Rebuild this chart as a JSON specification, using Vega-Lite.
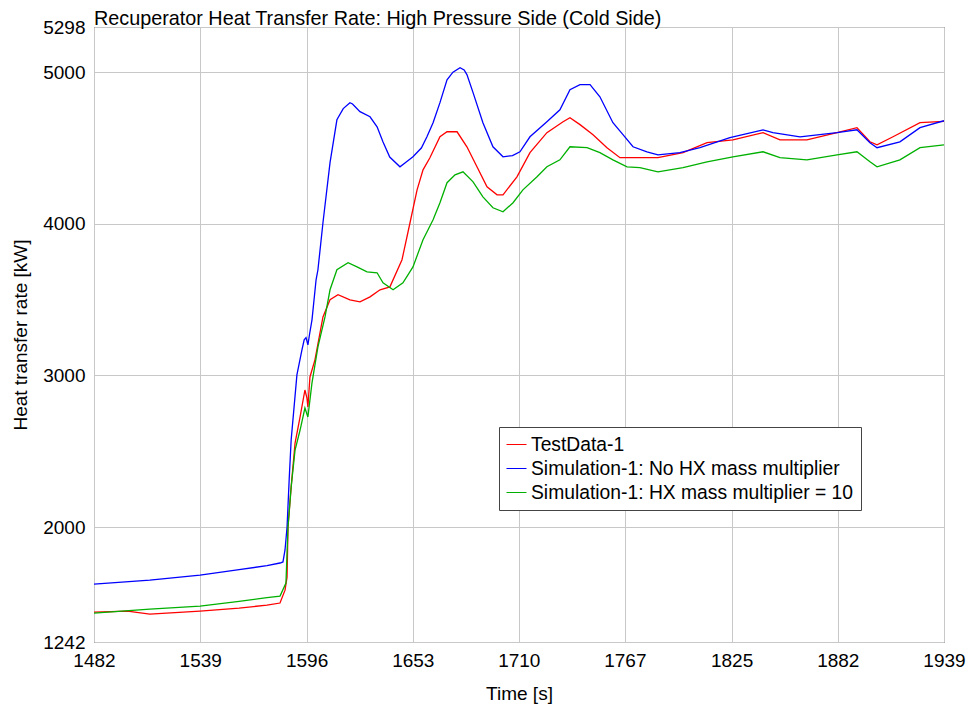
{
  "$schema": "https://vega.github.io/schema/vega-lite/v6.json",
  "width": 850,
  "height": 615,
  "autosize": "none",
  "padding": {"left": 94, "top": 27, "right": 29, "bottom": 66},
  "background": "white",
  "config": {
    "font": "Liberation Sans",
    "view": {"stroke": "#222222", "strokeWidth": 1}
  },
  "title": {
    "text": "Recuperator Heat Transfer Rate: High Pressure Side (Cold Side)",
    "anchor": "start",
    "frame": "group",
    "fontSize": 19.8,
    "fontWeight": "normal",
    "font": "Liberation Sans",
    "color": "black",
    "offset": 2,
    "dy": 13
  },
  "datasets": {
    "d": [
      {"s": "TestData-1", "t": 1482, "q": 1439},
      {"s": "TestData-1", "t": 1500, "q": 1446},
      {"s": "TestData-1", "t": 1512, "q": 1426},
      {"s": "TestData-1", "t": 1539, "q": 1446},
      {"s": "TestData-1", "t": 1560, "q": 1466},
      {"s": "TestData-1", "t": 1575, "q": 1485},
      {"s": "TestData-1", "t": 1582, "q": 1499},
      {"s": "TestData-1", "t": 1584.7, "q": 1584},
      {"s": "TestData-1", "t": 1585.8, "q": 1670},
      {"s": "TestData-1", "t": 1586.3, "q": 2000},
      {"s": "TestData-1", "t": 1588, "q": 2264},
      {"s": "TestData-1", "t": 1590.1, "q": 2554},
      {"s": "TestData-1", "t": 1592.8, "q": 2726},
      {"s": "TestData-1", "t": 1595.4, "q": 2904},
      {"s": "TestData-1", "t": 1596.5, "q": 2850},
      {"s": "TestData-1", "t": 1597, "q": 2792},
      {"s": "TestData-1", "t": 1598.1, "q": 2990},
      {"s": "TestData-1", "t": 1600.8, "q": 3103},
      {"s": "TestData-1", "t": 1605.1, "q": 3386},
      {"s": "TestData-1", "t": 1608.9, "q": 3499},
      {"s": "TestData-1", "t": 1613.2, "q": 3532},
      {"s": "TestData-1", "t": 1619.6, "q": 3499},
      {"s": "TestData-1", "t": 1625, "q": 3485},
      {"s": "TestData-1", "t": 1630.4, "q": 3518},
      {"s": "TestData-1", "t": 1635.8, "q": 3565},
      {"s": "TestData-1", "t": 1641.1, "q": 3584},
      {"s": "TestData-1", "t": 1647.6, "q": 3763},
      {"s": "TestData-1", "t": 1651.9, "q": 4007},
      {"s": "TestData-1", "t": 1655.7, "q": 4224},
      {"s": "TestData-1", "t": 1658.9, "q": 4356},
      {"s": "TestData-1", "t": 1662.6, "q": 4436},
      {"s": "TestData-1", "t": 1668, "q": 4574},
      {"s": "TestData-1", "t": 1671.8, "q": 4607},
      {"s": "TestData-1", "t": 1677.2, "q": 4607},
      {"s": "TestData-1", "t": 1682.5, "q": 4508},
      {"s": "TestData-1", "t": 1687.9, "q": 4376},
      {"s": "TestData-1", "t": 1693.3, "q": 4244},
      {"s": "TestData-1", "t": 1698.7, "q": 4191},
      {"s": "TestData-1", "t": 1701.9, "q": 4191},
      {"s": "TestData-1", "t": 1709.4, "q": 4310},
      {"s": "TestData-1", "t": 1716.4, "q": 4469},
      {"s": "TestData-1", "t": 1725.5, "q": 4601},
      {"s": "TestData-1", "t": 1734.2, "q": 4673},
      {"s": "TestData-1", "t": 1737.9, "q": 4700},
      {"s": "TestData-1", "t": 1743.3, "q": 4654},
      {"s": "TestData-1", "t": 1750.3, "q": 4588},
      {"s": "TestData-1", "t": 1757.8, "q": 4502},
      {"s": "TestData-1", "t": 1764.8, "q": 4436},
      {"s": "TestData-1", "t": 1775.5, "q": 4436},
      {"s": "TestData-1", "t": 1785.2, "q": 4436},
      {"s": "TestData-1", "t": 1798.7, "q": 4469},
      {"s": "TestData-1", "t": 1811.6, "q": 4535},
      {"s": "TestData-1", "t": 1825.5, "q": 4554},
      {"s": "TestData-1", "t": 1841.7, "q": 4601},
      {"s": "TestData-1", "t": 1850.8, "q": 4554},
      {"s": "TestData-1", "t": 1865.3, "q": 4554},
      {"s": "TestData-1", "t": 1881.5, "q": 4601},
      {"s": "TestData-1", "t": 1892.2, "q": 4634},
      {"s": "TestData-1", "t": 1899.2, "q": 4541},
      {"s": "TestData-1", "t": 1903, "q": 4521},
      {"s": "TestData-1", "t": 1911.6, "q": 4574},
      {"s": "TestData-1", "t": 1926.1, "q": 4667},
      {"s": "TestData-1", "t": 1939, "q": 4675},

      {"s": "Simulation-1: No HX mass multiplier", "t": 1482, "q": 1624},
      {"s": "Simulation-1: No HX mass multiplier", "t": 1512, "q": 1650},
      {"s": "Simulation-1: No HX mass multiplier", "t": 1539, "q": 1683},
      {"s": "Simulation-1: No HX mass multiplier", "t": 1560, "q": 1720},
      {"s": "Simulation-1: No HX mass multiplier", "t": 1575, "q": 1745},
      {"s": "Simulation-1: No HX mass multiplier", "t": 1582, "q": 1763},
      {"s": "Simulation-1: No HX mass multiplier", "t": 1583.6, "q": 1770},
      {"s": "Simulation-1: No HX mass multiplier", "t": 1584.7, "q": 1849},
      {"s": "Simulation-1: No HX mass multiplier", "t": 1585.8, "q": 2000},
      {"s": "Simulation-1: No HX mass multiplier", "t": 1587, "q": 2330},
      {"s": "Simulation-1: No HX mass multiplier", "t": 1588, "q": 2574},
      {"s": "Simulation-1: No HX mass multiplier", "t": 1591.1, "q": 3004},
      {"s": "Simulation-1: No HX mass multiplier", "t": 1593.8, "q": 3169},
      {"s": "Simulation-1: No HX mass multiplier", "t": 1595, "q": 3235},
      {"s": "Simulation-1: No HX mass multiplier", "t": 1596, "q": 3250},
      {"s": "Simulation-1: No HX mass multiplier", "t": 1597, "q": 3202},
      {"s": "Simulation-1: No HX mass multiplier", "t": 1598, "q": 3280},
      {"s": "Simulation-1: No HX mass multiplier", "t": 1599.2, "q": 3367},
      {"s": "Simulation-1: No HX mass multiplier", "t": 1601.4, "q": 3631},
      {"s": "Simulation-1: No HX mass multiplier", "t": 1602.4, "q": 3697},
      {"s": "Simulation-1: No HX mass multiplier", "t": 1605.1, "q": 4007},
      {"s": "Simulation-1: No HX mass multiplier", "t": 1608.9, "q": 4403},
      {"s": "Simulation-1: No HX mass multiplier", "t": 1612.6, "q": 4686},
      {"s": "Simulation-1: No HX mass multiplier", "t": 1616, "q": 4760},
      {"s": "Simulation-1: No HX mass multiplier", "t": 1619.6, "q": 4799},
      {"s": "Simulation-1: No HX mass multiplier", "t": 1621, "q": 4790},
      {"s": "Simulation-1: No HX mass multiplier", "t": 1625, "q": 4740},
      {"s": "Simulation-1: No HX mass multiplier", "t": 1630.4, "q": 4706},
      {"s": "Simulation-1: No HX mass multiplier", "t": 1634.2, "q": 4640},
      {"s": "Simulation-1: No HX mass multiplier", "t": 1637.4, "q": 4540},
      {"s": "Simulation-1: No HX mass multiplier", "t": 1641, "q": 4440},
      {"s": "Simulation-1: No HX mass multiplier", "t": 1646.5, "q": 4376},
      {"s": "Simulation-1: No HX mass multiplier", "t": 1649, "q": 4400},
      {"s": "Simulation-1: No HX mass multiplier", "t": 1653.5, "q": 4442},
      {"s": "Simulation-1: No HX mass multiplier", "t": 1658, "q": 4500},
      {"s": "Simulation-1: No HX mass multiplier", "t": 1661, "q": 4574},
      {"s": "Simulation-1: No HX mass multiplier", "t": 1664.3, "q": 4667},
      {"s": "Simulation-1: No HX mass multiplier", "t": 1668, "q": 4799},
      {"s": "Simulation-1: No HX mass multiplier", "t": 1671.8, "q": 4950},
      {"s": "Simulation-1: No HX mass multiplier", "t": 1675, "q": 5000},
      {"s": "Simulation-1: No HX mass multiplier", "t": 1678.8, "q": 5030},
      {"s": "Simulation-1: No HX mass multiplier", "t": 1681, "q": 5015},
      {"s": "Simulation-1: No HX mass multiplier", "t": 1682.5, "q": 4984},
      {"s": "Simulation-1: No HX mass multiplier", "t": 1685.8, "q": 4865},
      {"s": "Simulation-1: No HX mass multiplier", "t": 1691.1, "q": 4667},
      {"s": "Simulation-1: No HX mass multiplier", "t": 1696.5, "q": 4508},
      {"s": "Simulation-1: No HX mass multiplier", "t": 1701.9, "q": 4442},
      {"s": "Simulation-1: No HX mass multiplier", "t": 1707, "q": 4450},
      {"s": "Simulation-1: No HX mass multiplier", "t": 1711, "q": 4475},
      {"s": "Simulation-1: No HX mass multiplier", "t": 1716.4, "q": 4574},
      {"s": "Simulation-1: No HX mass multiplier", "t": 1725.5, "q": 4673},
      {"s": "Simulation-1: No HX mass multiplier", "t": 1732.5, "q": 4752},
      {"s": "Simulation-1: No HX mass multiplier", "t": 1737.9, "q": 4885},
      {"s": "Simulation-1: No HX mass multiplier", "t": 1743.3, "q": 4918},
      {"s": "Simulation-1: No HX mass multiplier", "t": 1748.7, "q": 4918},
      {"s": "Simulation-1: No HX mass multiplier", "t": 1754, "q": 4838},
      {"s": "Simulation-1: No HX mass multiplier", "t": 1761, "q": 4667},
      {"s": "Simulation-1: No HX mass multiplier", "t": 1766.4, "q": 4588},
      {"s": "Simulation-1: No HX mass multiplier", "t": 1771.8, "q": 4508},
      {"s": "Simulation-1: No HX mass multiplier", "t": 1779.3, "q": 4475},
      {"s": "Simulation-1: No HX mass multiplier", "t": 1785.2, "q": 4455},
      {"s": "Simulation-1: No HX mass multiplier", "t": 1797, "q": 4469},
      {"s": "Simulation-1: No HX mass multiplier", "t": 1807.8, "q": 4502},
      {"s": "Simulation-1: No HX mass multiplier", "t": 1823.9, "q": 4568},
      {"s": "Simulation-1: No HX mass multiplier", "t": 1841.7, "q": 4620},
      {"s": "Simulation-1: No HX mass multiplier", "t": 1847, "q": 4601},
      {"s": "Simulation-1: No HX mass multiplier", "t": 1861.6, "q": 4574},
      {"s": "Simulation-1: No HX mass multiplier", "t": 1881.5, "q": 4601},
      {"s": "Simulation-1: No HX mass multiplier", "t": 1892.2, "q": 4620},
      {"s": "Simulation-1: No HX mass multiplier", "t": 1899.2, "q": 4535},
      {"s": "Simulation-1: No HX mass multiplier", "t": 1903, "q": 4502},
      {"s": "Simulation-1: No HX mass multiplier", "t": 1915.3, "q": 4541},
      {"s": "Simulation-1: No HX mass multiplier", "t": 1926.1, "q": 4634},
      {"s": "Simulation-1: No HX mass multiplier", "t": 1939, "q": 4680},

      {"s": "Simulation-1: HX mass multiplier = 10", "t": 1482, "q": 1433},
      {"s": "Simulation-1: HX mass multiplier = 10", "t": 1512, "q": 1459},
      {"s": "Simulation-1: HX mass multiplier = 10", "t": 1539, "q": 1479},
      {"s": "Simulation-1: HX mass multiplier = 10", "t": 1560, "q": 1510},
      {"s": "Simulation-1: HX mass multiplier = 10", "t": 1575, "q": 1535},
      {"s": "Simulation-1: HX mass multiplier = 10", "t": 1582, "q": 1545},
      {"s": "Simulation-1: HX mass multiplier = 10", "t": 1585.2, "q": 1631},
      {"s": "Simulation-1: HX mass multiplier = 10", "t": 1586.3, "q": 2000},
      {"s": "Simulation-1: HX mass multiplier = 10", "t": 1588, "q": 2264},
      {"s": "Simulation-1: HX mass multiplier = 10", "t": 1590.1, "q": 2508},
      {"s": "Simulation-1: HX mass multiplier = 10", "t": 1592.8, "q": 2640},
      {"s": "Simulation-1: HX mass multiplier = 10", "t": 1595.4, "q": 2785},
      {"s": "Simulation-1: HX mass multiplier = 10", "t": 1597, "q": 2726},
      {"s": "Simulation-1: HX mass multiplier = 10", "t": 1599.2, "q": 2951},
      {"s": "Simulation-1: HX mass multiplier = 10", "t": 1602.4, "q": 3189},
      {"s": "Simulation-1: HX mass multiplier = 10", "t": 1606.2, "q": 3386},
      {"s": "Simulation-1: HX mass multiplier = 10", "t": 1608.9, "q": 3565},
      {"s": "Simulation-1: HX mass multiplier = 10", "t": 1612.6, "q": 3697},
      {"s": "Simulation-1: HX mass multiplier = 10", "t": 1618.6, "q": 3743},
      {"s": "Simulation-1: HX mass multiplier = 10", "t": 1623.4, "q": 3716},
      {"s": "Simulation-1: HX mass multiplier = 10", "t": 1628.8, "q": 3683},
      {"s": "Simulation-1: HX mass multiplier = 10", "t": 1634.2, "q": 3677},
      {"s": "Simulation-1: HX mass multiplier = 10", "t": 1637.4, "q": 3611},
      {"s": "Simulation-1: HX mass multiplier = 10", "t": 1642.8, "q": 3565},
      {"s": "Simulation-1: HX mass multiplier = 10", "t": 1648.1, "q": 3611},
      {"s": "Simulation-1: HX mass multiplier = 10", "t": 1653.5, "q": 3716},
      {"s": "Simulation-1: HX mass multiplier = 10", "t": 1658.9, "q": 3895},
      {"s": "Simulation-1: HX mass multiplier = 10", "t": 1664.3, "q": 4027},
      {"s": "Simulation-1: HX mass multiplier = 10", "t": 1668, "q": 4139},
      {"s": "Simulation-1: HX mass multiplier = 10", "t": 1671.8, "q": 4271},
      {"s": "Simulation-1: HX mass multiplier = 10", "t": 1676.1, "q": 4323},
      {"s": "Simulation-1: HX mass multiplier = 10", "t": 1680.4, "q": 4343},
      {"s": "Simulation-1: HX mass multiplier = 10", "t": 1685.8, "q": 4277},
      {"s": "Simulation-1: HX mass multiplier = 10", "t": 1691.1, "q": 4178},
      {"s": "Simulation-1: HX mass multiplier = 10", "t": 1696.5, "q": 4106},
      {"s": "Simulation-1: HX mass multiplier = 10", "t": 1701.9, "q": 4079},
      {"s": "Simulation-1: HX mass multiplier = 10", "t": 1707.3, "q": 4139},
      {"s": "Simulation-1: HX mass multiplier = 10", "t": 1712.6, "q": 4224},
      {"s": "Simulation-1: HX mass multiplier = 10", "t": 1720.2, "q": 4310},
      {"s": "Simulation-1: HX mass multiplier = 10", "t": 1725.5, "q": 4376},
      {"s": "Simulation-1: HX mass multiplier = 10", "t": 1732.5, "q": 4422},
      {"s": "Simulation-1: HX mass multiplier = 10", "t": 1737.9, "q": 4508},
      {"s": "Simulation-1: HX mass multiplier = 10", "t": 1747.1, "q": 4502},
      {"s": "Simulation-1: HX mass multiplier = 10", "t": 1754, "q": 4469},
      {"s": "Simulation-1: HX mass multiplier = 10", "t": 1761, "q": 4422},
      {"s": "Simulation-1: HX mass multiplier = 10", "t": 1768.6, "q": 4376},
      {"s": "Simulation-1: HX mass multiplier = 10", "t": 1775.5, "q": 4370},
      {"s": "Simulation-1: HX mass multiplier = 10", "t": 1785.2, "q": 4343},
      {"s": "Simulation-1: HX mass multiplier = 10", "t": 1798.7, "q": 4370},
      {"s": "Simulation-1: HX mass multiplier = 10", "t": 1811.6, "q": 4409},
      {"s": "Simulation-1: HX mass multiplier = 10", "t": 1825.5, "q": 4442},
      {"s": "Simulation-1: HX mass multiplier = 10", "t": 1841.7, "q": 4475},
      {"s": "Simulation-1: HX mass multiplier = 10", "t": 1850.8, "q": 4436},
      {"s": "Simulation-1: HX mass multiplier = 10", "t": 1865.3, "q": 4422},
      {"s": "Simulation-1: HX mass multiplier = 10", "t": 1881.5, "q": 4455},
      {"s": "Simulation-1: HX mass multiplier = 10", "t": 1892.2, "q": 4475},
      {"s": "Simulation-1: HX mass multiplier = 10", "t": 1899.2, "q": 4409},
      {"s": "Simulation-1: HX mass multiplier = 10", "t": 1903, "q": 4376},
      {"s": "Simulation-1: HX mass multiplier = 10", "t": 1915.3, "q": 4422},
      {"s": "Simulation-1: HX mass multiplier = 10", "t": 1926.1, "q": 4502},
      {"s": "Simulation-1: HX mass multiplier = 10", "t": 1939, "q": 4521}
    ]
  },
  "data": {"name": "d"},
  "mark": {"type": "line", "strokeWidth": 1.3, "clip": true},
  "encoding": {
    "x": {
      "field": "t",
      "type": "quantitative",
      "scale": {"domain": [1482, 1939], "nice": false, "zero": false},
      "axis": {
        "title": "Time [s]",
        "values": [1482, 1539.1, 1596.3, 1653.4, 1710.4, 1767.4, 1824.8, 1881.9, 1939],
        "format": ".0f",
        "labelFontSize": 19,
        "labelColor": "black",
        "labelPadding": 9,
        "labelFlush": false,
        "labelOverlap": false,
        "titleFontSize": 19,
        "titleFontWeight": "normal",
        "titleColor": "black",
        "titlePadding": 14,
        "ticks": false,
        "domain": false,
        "gridColor": "#c8c8c8",
        "gridOpacity": 1,
        "gridWidth": 1
      }
    },
    "y": {
      "field": "q",
      "type": "quantitative",
      "scale": {"domain": [1242, 5298], "nice": false, "zero": false},
      "axis": {
        "title": "Heat transfer rate [kW]",
        "values": [1242, 2000, 3000, 4000, 5000, 5298],
        "format": ".0f",
        "labelFontSize": 19,
        "labelColor": "black",
        "labelPadding": 9,
        "labelFlush": false,
        "labelOverlap": false,
        "titleFontSize": 19,
        "titleFontWeight": "normal",
        "titleColor": "black",
        "titlePadding": 12,
        "ticks": false,
        "domain": false,
        "gridColor": "#c8c8c8",
        "gridOpacity": 1,
        "gridWidth": 1
      }
    },
    "color": {
      "field": "s",
      "type": "nominal",
      "sort": null,
      "scale": {
        "domain": ["TestData-1", "Simulation-1: No HX mass multiplier", "Simulation-1: HX mass multiplier = 10"],
        "range": ["#ff0000", "#0000ff", "#00b000"]
      },
      "legend": {
        "title": null,
        "orient": "none",
        "legendX": 405,
        "legendY": 400,
        "symbolType": "stroke",
        "symbolSize": 400,
        "symbolStrokeWidth": 1,
        "labelFontSize": 19.3,
        "labelColor": "black",
        "labelLimit": 500,
        "labelOffset": 4,
        "rowPadding": 3,
        "padding": 7,
        "strokeColor": "#444444",
        "fillColor": "white",
        "cornerRadius": 0
      }
    }
  }
}
